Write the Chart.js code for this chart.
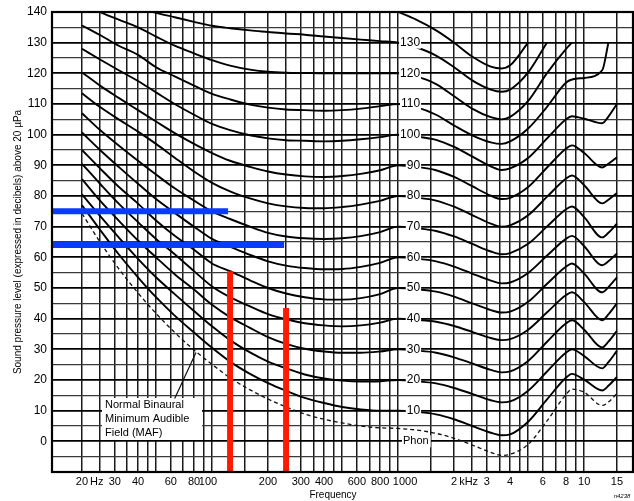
<!DOCTYPE html>
<html>
<head>
<meta charset="utf-8">
<script src="https://cdn.jsdelivr.net/npm/chart.js@4.4.1/dist/chart.umd.min.js"></script>
<style>
  html, body { margin: 0; padding: 0; background: #fff; }
  #wrap { width: 634px; height: 501px; position: relative; }
</style>
</head>
<body>
<div id="wrap"><canvas id="chart" width="634" height="501"></canvas></div>
<script>
"use strict";

/* ---- values (Hz / dB) ---- */
const freqs = [20, 25, 31.5, 40, 50, 63, 80, 100, 125, 160, 200, 250, 315, 400, 500, 630, 800, 1000,
               1250, 1600, 2000, 2500, 3150, 3600, 4000, 5000, 6300, 8000, 8600, 10000, 12500, 13500, 15000];

const maf    = [74.3, 65, 56.3, 48.4, 41.7, 35.5, 29.8, 25.1, 20.7, 16.8, 13.8, 11.2, 8.9, 7.2, 6.0, 5.0, 4.4, 4.2,
                3.7, 2.6, 1.0, -1.2, -3.6, -4.6, -4.2, -1.0, 6.6, 15.3, 17, 16, 11.7, 12.8, 15.6];
const phon10 = [77, 69, 61, 53.5, 47, 41, 35.5, 30.5, 26, 22, 19, 16.5, 14.2, 12.5, 11.2, 10.4, 10, 10,
                9.6, 8.8, 7.2, 5, 2.8, 2, 2.3, 6.4, 13.6, 20.8, 22, 20.1, 16.6, 18.1, 21];
const phon20 = [80.5, 73.5, 66.5, 59.5, 53.5, 48, 42.5, 37.5, 33, 29, 26, 23.8, 21.8, 20.5, 19.8, 19.5, 19.6, 20,
                19.6, 18.9, 17.4, 15.5, 13.4, 12.7, 13, 16.5, 22.7, 29, 30, 27.8, 23.8, 25.8, 29.5];
const phon30 = [85.5, 78.5, 72, 65.5, 60, 54.5, 49.5, 44.5, 40.5, 37, 34, 31.8, 30.2, 29.3, 28.9, 28.9, 29.3, 30,
                29.6, 28.9, 27.4, 25.4, 23.3, 22.5, 22.8, 26.2, 32.4, 38.5, 39.5, 36.4, 30.6, 32.5, 36];
const phon40 = [90.5, 84, 77.5, 71.5, 66, 61, 55.5, 50.5, 47, 44, 41.5, 39.8, 38.5, 37.8, 37.5, 37.8, 38.7, 40,
                39.6, 39, 37.6, 35.7, 33.7, 33, 33.3, 36.4, 42, 47.7, 48.6, 45.4, 39.5, 41.4, 45];
const phon50 = [95, 89, 83, 77.5, 72, 67, 62.5, 58, 55.5, 52.5, 50, 48.2, 47, 46.3, 46.2, 46.7, 48, 50,
                49.6, 48.8, 47.2, 45, 42.8, 42, 42.3, 45.5, 51.3, 57, 58, 54.7, 48.6, 50.3, 53.5];
const phon60 = [100.7, 95, 89.5, 84, 79, 74.5, 70, 66, 63.5, 60.8, 58.7, 57.3, 56.5, 56.1, 56.2, 56.9, 58.2, 60,
                59.6, 58.7, 57, 54.7, 52.4, 51.5, 51.8, 54.9, 60.5, 66.1, 67, 63.6, 57.4, 58.7, 61.3];
const phon70 = [107, 101.5, 96.5, 91.5, 87, 82.5, 78.5, 75, 72.5, 70, 68, 66.8, 66.2, 66, 66.2, 66.9, 68.2, 70,
                69.5, 68.6, 66.8, 64.4, 61.9, 61, 61.4, 64.4, 70, 75.7, 76.6, 73.1, 66.5, 68, 71];
const phon80 = [113.5, 109, 105, 101, 97, 92.5, 88, 84.3, 81.5, 79.2, 77.6, 76.6, 76.1, 76, 76.4, 77.2, 78.4, 80,
                79.5, 78.5, 76.5, 73.8, 71, 70, 70.4, 73.7, 79.7, 85.7, 86.7, 83.5, 77.6, 78.8, 81];
const phon90 = [120.3, 116, 112, 108, 104.3, 100.5, 97, 94, 91.5, 89.5, 88, 87, 86.4, 86.2, 86.5, 87.2, 88.4, 90,
                89.5, 88.4, 86.2, 83.2, 80.1, 79, 79.4, 82.9, 89.2, 95.5, 96.5, 94, 89.3, 90.5, 92.6];
const phon100 = [128, 124.5, 121, 117.5, 113.8, 110, 106.5, 103.5, 101.5, 99.8, 98.8, 98.2, 98, 97.8, 98, 98.5, 99.2, 100,
                 99.4, 98.3, 96, 92.9, 89.7, 88.5, 89, 92.4, 98.7, 105, 106, 105.2, 103.7, 105.9, 110];
const phon110 = [135.6, 132.5, 129, 126, 122, 119, 116, 113.3, 111.5, 109.8, 108.8, 108.2, 108, 107.8, 108, 108.5, 109.3, 110,
                 109, 106.5, 103, 99.8, 97.5, 97, 97.8, 102, 109, 117, 118, 118.5, 121, 130, null];
const phon120 = [143.5, 140, 137.5, 135, 132, 129, 126.5, 124.3, 122.5, 121.2, 120.5, 120.2, 120.1, 120, 120, 120, 120, 120,
                 119, 116.5, 112.5, 108.5, 105.7, 105, 105.8, 111, 120, 128, 130, null, null, null, null];
const phon130 = [148, 146, 143.5, 141.5, 139.7, 138.3, 136.8, 135.5, 134.7, 134, 133.5, 133, 132.6, 132, 131.5, 131, 130.5, 130,
                 128.5, 125.8, 122, 117.7, 114.7, 114, 114.7, 120.3, 130, null, null, null, null, null, null];
const phon140 = [null, null, null, null, null, null, null, null, null, null, null, null, null, null, null, null, null, 140,
                 137.5, 134, 130, 125.5, 122.2, 121.6, 122.6, 130, null, null, null, null, null, null, null];

const phonCurves = [phon10, phon20, phon30, phon40, phon50, phon60, phon70, phon80, phon90, phon100, phon110, phon120, phon130, phon140];
const phonLabels = [10, 20, 30, 40, 50, 60, 70, 80, 90, 100, 110, 120, 130];

const gridFreqs = [20, 25, 30, 35, 40, 45, 50, 60, 70, 80, 90, 100, 150, 200, 250, 300, 350, 400, 450, 500,
                   600, 700, 800, 900, 1000, 1500, 2000, 2500, 3000, 3500, 4000, 4500, 5000, 6000, 7000, 8000, 9000, 10000, 15000];
const freqTicks = [20, 30, 40, 60, 80, 100, 200, 300, 400, 600, 800, 1000, 2000, 3000, 4000, 6000, 8000, 10000, 15000];
const freqTickText = ["20", "30", "40", "60", "80", "100", "200", "300", "400", "600", "800", "1000",
                      "2", "3", "4", "6", "8", "10", "15"];
const levelTicks = [0, 10, 20, 30, 40, 50, 60, 70, 80, 90, 100, 110, 120, 130, 140];

/* highlight marks drawn over the chart */
const blueLevels = [75, 64];
const blueEndFreqs = [122, 244];
const redFreqs = [125, 250];
const redTops = [55.5, 43.5];

const X_MIN = 13.8, X_MAX = 18300, Y_MIN = -10, Y_MAX = 140;

const pts = vals => freqs.map((f, i) => ({ x: f, y: vals[i] }));

const datasets = [];
blueLevels.forEach((lv, i) => datasets.push({
  data: [{ x: X_MIN, y: lv }, { x: blueEndFreqs[i], y: lv }],
  borderColor: "#0a3cff", borderWidth: 6, borderCapStyle: "butt", order: -1,
}));
redFreqs.forEach((f, i) => datasets.push({
  data: [{ x: f, y: Y_MIN }, { x: f, y: redTops[i] }],
  borderColor: "#ff1a00", borderWidth: 6, borderCapStyle: "butt", order: -1,
}));
phonCurves.forEach(vals => datasets.push({
  data: pts(vals), borderColor: "#000", borderWidth: 1.9, cubicInterpolationMode: "monotone",
}));
datasets.push({
  data: pts(maf), borderColor: "#111", borderWidth: 1.3, borderDash: [4, 3], cubicInterpolationMode: "monotone",
});

/* ---- texts, frame and labels ---- */
const decorPlugin = {
  id: "decor",
  afterDraw(chart) {
    const { ctx, chartArea: a, scales: { x, y } } = chart;
    ctx.save();

    // frame
    ctx.strokeStyle = "#000";
    ctx.lineWidth = 2.2;
    ctx.strokeRect(a.left, a.top, a.right - a.left, a.bottom - a.top);

    ctx.fillStyle = "#000";
    ctx.textBaseline = "middle";

    // level tick labels
    ctx.font = "12px 'Liberation Sans', Arial, sans-serif";
    ctx.textAlign = "right";
    levelTicks.forEach(v => ctx.fillText(String(v), 47, y.getPixelForValue(v)));

    // frequency tick labels
    ctx.font = "11px 'Liberation Sans', Arial, sans-serif";
    ctx.textAlign = "center";
    const nudge = { 100: -4, 1000: 7 };
    freqTicks.forEach((f, i) => {
      const px = x.getPixelForValue(f) + (nudge[f] || 0);
      const t = freqTickText[i];
      ctx.fillText(t, px, 482);
      if (f === 20 || f === 2000) {
        ctx.textAlign = "left";
        ctx.fillText(f === 20 ? "Hz" : "kHz", px + ctx.measureText(t).width / 2 + 2, 482);
        ctx.textAlign = "center";
      }
    });

    // axis titles
    ctx.font = "10px 'Liberation Sans', Arial, sans-serif";
    ctx.fillText("Frequency", 333, 495);
    ctx.save();
    ctx.translate(18, 242);
    ctx.rotate(-Math.PI / 2);
    ctx.fillText("Sound pressure level (expressed in decibels) above 20 \u00b5Pa", 0, 0);
    ctx.restore();
    ctx.font = "italic 6px 'Liberation Sans', Arial, sans-serif";
    ctx.fillText("n4238", 622, 496);

    // phon labels on the 1 kHz line
    ctx.font = "12px 'Liberation Sans', Arial, sans-serif";
    ctx.textAlign = "right";
    const lx = x.getPixelForValue(1000) + 22;
    phonLabels.forEach(p => {
      const py = y.getPixelForValue(p);
      const w = ctx.measureText(String(p)).width;
      ctx.fillStyle = "#fff";
      ctx.fillRect(lx - w - 1, py - 6, w + 2, 12);
      ctx.fillStyle = "#000";
      ctx.fillText(String(p), lx, py);
    });
    const phonY = y.getPixelForValue(0);
    ctx.textAlign = "left";
    ctx.font = "11px 'Liberation Sans', Arial, sans-serif";
    const pw = ctx.measureText("Phon").width;
    ctx.fillStyle = "#fff";
    ctx.fillRect(402, phonY - 6, pw + 3, 12);
    ctx.fillStyle = "#000";
    ctx.fillText("Phon", 403, phonY);

    // MAF annotation
    const lines = ["Normal Binaural", "Minimum Audible", "Field (MAF)"];
    ctx.fillStyle = "#fff";
    ctx.fillRect(102, 398, 100, 42);
    ctx.fillStyle = "#000";
    lines.forEach((t, i) => ctx.fillText(t, 105, 405 + i * 14));
    ctx.strokeStyle = "#111";
    ctx.lineWidth = 1.2;
    ctx.beginPath();
    ctx.moveTo(x.getPixelForValue(63), y.getPixelForValue(14));
    ctx.lineTo(x.getPixelForValue(82), y.getPixelForValue(29));
    ctx.stroke();

    ctx.restore();
  },
};

new Chart(document.getElementById("chart"), {
  type: "line",
  data: { datasets },
  options: {
    responsive: false,
    animation: false,
    layout: { padding: { left: 52, top: 12, right: 1, bottom: 29 } },
    elements: { point: { radius: 0 }, line: { fill: false } },
    plugins: { legend: { display: false }, tooltip: { enabled: false } },
    scales: {
      x: {
        type: "logarithmic", min: X_MIN, max: X_MAX,
        afterBuildTicks: s => { s.ticks = gridFreqs.map(v => ({ value: v })); },
        ticks: { display: false },
        grid: { color: "#1a1a1a", lineWidth: 1.5, drawTicks: false },
        border: { display: false },
      },
      y: {
        type: "linear", min: Y_MIN, max: Y_MAX,
        ticks: { display: false, stepSize: 5 },
        grid: {
          color: c => (c.tick.value % 10 === 0 ? "#000" : "#3a3a3a"),
          lineWidth: c => (c.tick.value % 10 === 0 ? 1.8 : 1.3),
          drawTicks: false,
        },
        border: { display: false },
      },
    },
  },
  plugins: [decorPlugin],
});
</script>
</body>
</html>
